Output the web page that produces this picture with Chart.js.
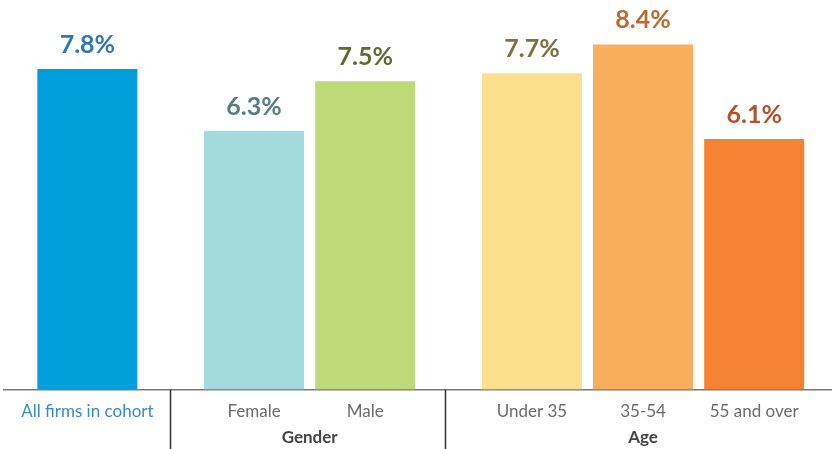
<!DOCTYPE html>
<html>
<head>
<meta charset="utf-8">
<script src="https://cdn.jsdelivr.net/npm/chart.js@4/dist/chart.umd.min.js"></script>
<style>
  html, body { margin: 0; padding: 0; background: #ffffff; }
  #wrap { width: 832px; height: 449px; position: relative; }
</style>
</head>
<body>
<div id="wrap"><canvas id="c"></canvas></div>
<script>
// ---- data ----
const categories = ["All firms in cohort", "Female", "Male", "Under 35", "35-54", "55 and over"];
const values = [7.8, 6.3, 7.5, 7.7, 8.4, 6.1];
const slots = [0, 1.5, 2.5, 4, 5, 6];
const groups = ["", "Gender", "Gender", "Age", "Age", "Age"];
const groupNames = ["Gender", "Age"];
const separators = [0.74, 3.22];

// ---- styles ----
const barColors = ["#00a0dc", "#a3dadb", "#bed977", "#fde08b", "#f9ae5d", "#f58233"];
const labelColors = ["#2f78b5", "#557e7d", "#5f6b2e", "#7e7142", "#c0692f", "#b5502a"];
const tickColors = ["#3b8ac4", "#6b6b6b", "#6b6b6b", "#6b6b6b", "#6b6b6b", "#6b6b6b"];

const annotate = {
  id: 'annotate',
  afterDatasetsDraw(chart) {
    const ctx = chart.ctx;
    const meta = chart.getDatasetMeta(0);
    ctx.save();
    ctx.font = "bold 25px Lato";
    ctx.textAlign = "center";
    ctx.textBaseline = "alphabetic";
    meta.data.forEach((bar, i) => {
      ctx.fillStyle = labelColors[i];
      ctx.fillText(values[i].toFixed(1) + "%", bar.x, bar.y - 16);
    });
    ctx.restore();
  },
  afterDraw(chart) {
    const ctx = chart.ctx;
    const xs = chart.scales.x;
    const bottom = chart.chartArea.bottom;
    ctx.save();
    ctx.strokeStyle = "#333333";
    ctx.lineWidth = 1.5;
    separators.forEach(s => {
      const px = Math.round(xs.getPixelForValue(s)) + 0.5;
      ctx.beginPath();
      ctx.moveTo(px, bottom);
      ctx.lineTo(px, chart.height);
      ctx.stroke();
    });
    ctx.font = "bold 17px Lato";
    ctx.fillStyle = "#444444";
    ctx.textAlign = "center";
    ctx.textBaseline = "middle";
    groupNames.forEach(g => {
      const idx = groups.map((v, i) => v === g ? i : -1).filter(i => i >= 0);
      const a = xs.getPixelForValue(slots[idx[0]]);
      const b = xs.getPixelForValue(slots[idx[idx.length - 1]]);
      ctx.fillText(g, (a + b) / 2, bottom + 48);
    });
    ctx.restore();
  }
};

new Chart(document.getElementById('c'), {
  type: 'bar',
  data: {
    datasets: [{
      data: slots.map((s, i) => ({ x: s, y: values[i] })),
      backgroundColor: barColors,
      borderWidth: 0,
      categoryPercentage: 1,
      barPercentage: 0.9
    }]
  },
  options: {
    responsive: true,
    maintainAspectRatio: false,
    animation: false,
    devicePixelRatio: 1,
    layout: { padding: { left: 4, right: 0, top: 0, bottom: 15 } },
    plugins: { legend: { display: false }, tooltip: { enabled: false } },
    scales: {
      x: {
        type: 'linear',
        min: -0.75,
        max: 6.7,
        offset: false,
        afterBuildTicks: (axis) => { axis.ticks = slots.map(v => ({ value: v })); },
        grid: { display: false, drawTicks: false },
        border: { display: true, color: '#7a7a7a', width: 1.5 },
        ticks: {
          autoSkip: false,
          maxRotation: 0,
          padding: 12,
          font: { family: 'Lato', size: 17 },
          color: (ctx) => tickColors[ctx.index] || '#6b6b6b',
          callback: (v, i) => categories[i]
        }
      },
      y: {
        display: false,
        min: 0,
        max: 9.48
      }
    }
  },
  plugins: [annotate]
});
</script>
</body>
</html>
